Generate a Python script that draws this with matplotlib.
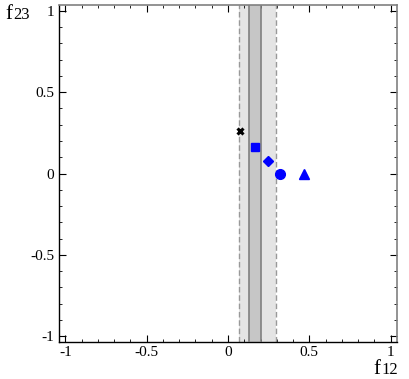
import matplotlib
matplotlib.use("Agg")
import matplotlib.pyplot as plt
from matplotlib.ticker import MultipleLocator, FuncFormatter

plt.rcParams['font.family'] = ['Liberation Serif', 'DejaVu Serif']

# data
light_band = (0.068, 0.295)
dark_band = (0.13, 0.202)
pt_x = [0.072, 0.167, 0.247, 0.32, 0.47]
pt_y = [0.26, 0.163, 0.08, 0.0, 0.0]
pt_markers = ['x', 's', 'D', 'o', '^']
pt_colors = ['black', 'blue', 'blue', 'blue', 'blue']
pt_sizes = [5, 6, 5.5, 7, 7]
xticks = [-1, -0.5, 0, 0.5, 1]
yticks = [-1, -0.5, 0, 0.5, 1]

W, H = 409, 379
fig = plt.figure(figsize=(W / 100, H / 100), dpi=100)
ax = fig.add_axes([0.144, 0.0976, 0.827, 0.889])
ax.set_xlim(-1.04, 1.04)
ax.set_ylim(-1.035, 1.035)

ax.axvspan(light_band[0], light_band[1], color='#e4e4e4', zorder=1, lw=0)
for xv in light_band:
    ax.axvline(xv, color='#999999', ls=(0, (4, 2)), lw=1.0, zorder=2)
ax.axvspan(dark_band[0], dark_band[1], color='#c6c6c6', zorder=2, lw=0)
for xv in dark_band:
    ax.axvline(xv, color='#808080', lw=1.2, zorder=3)

for x, y, m, c, s in zip(pt_x, pt_y, pt_markers, pt_colors, pt_sizes):
    ax.plot([x], [y], marker=m, color=c, ms=s, ls='none', zorder=5, mec=c,
            mew=2.2 if m == 'x' else 1)

ax.set_xticks(xticks)
ax.set_yticks(yticks)
fmt = FuncFormatter(lambda v, p: ('-' if v < 0 else '') + ('%g' % abs(v)))
ax.xaxis.set_major_formatter(fmt)
ax.yaxis.set_major_formatter(fmt)
ax.xaxis.set_minor_locator(MultipleLocator(0.1))
ax.yaxis.set_minor_locator(MultipleLocator(0.1))
ax.tick_params(which='both', direction='in', top=True, right=True, labelsize=11, colors='black')
ax.tick_params(which='major', length=5, width=0.8)
ax.tick_params(which='minor', length=2.5, width=0.6)
ax.tick_params(axis='x', pad=3)
for side in ['left', 'bottom']:
    ax.spines[side].set_color('black')
    ax.spines[side].set_linewidth(1.0)
for side in ['top', 'right']:
    ax.spines[side].set_color('#808080')
    ax.spines[side].set_linewidth(1.2)

def label(fx, dx, base_y, digits):
    fig.text(fx / W, 1 - base_y / H, 'f', fontsize=15, ha='left', va='baseline')
    fig.text(dx / W, 1 - base_y / H, digits, fontsize=12, ha='left', va='baseline')

label(5, 13, 19, '23')
label(373, 381, 374, '12')

fig.savefig('out.png', dpi=100)
